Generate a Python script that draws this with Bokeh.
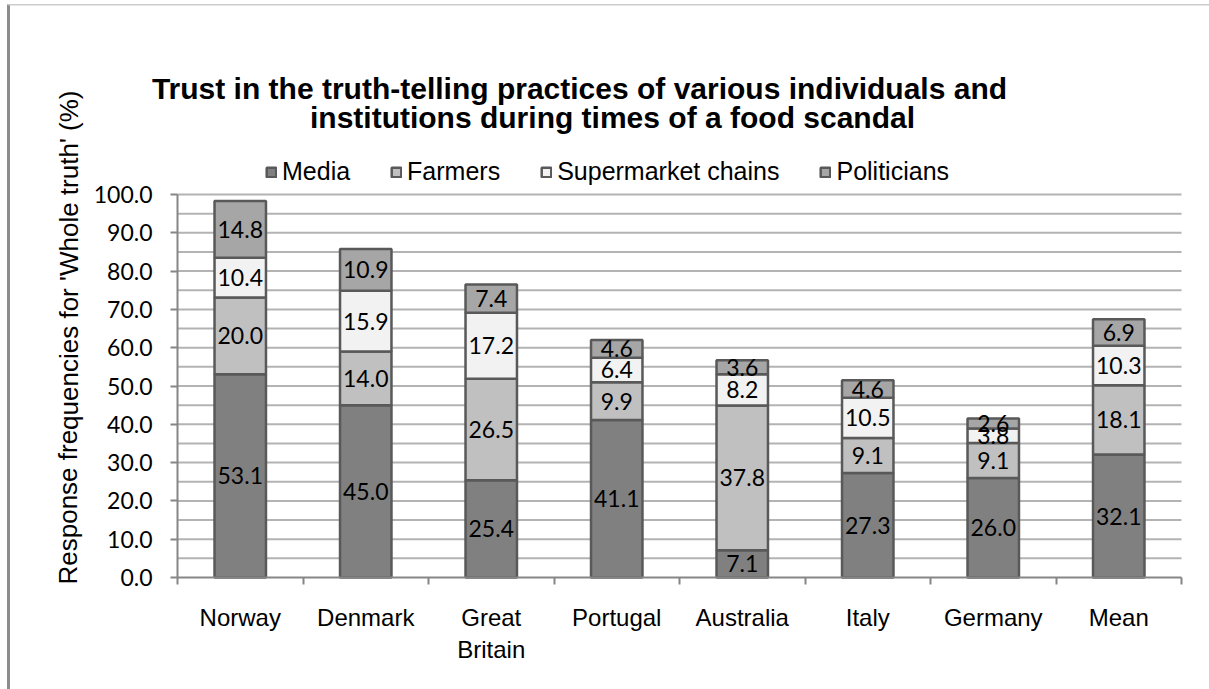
from bokeh.plotting import figure
from bokeh.models import (Range1d, FixedTicker, NumeralTickFormatter, Label, Legend,
                          LegendItem, ColumnDataSource, BoxAnnotation)
from bokeh.core.properties import value
from bokeh.embed import file_html
from bokeh.resources import INLINE

categories = ["Norway", "Denmark", "Great\nBritain", "Portugal", "Australia", "Italy", "Germany", "Mean"]
series = ["Media", "Farmers", "Supermarket chains", "Politicians"]
media = [53.1, 45.0, 25.4, 41.1, 7.1, 27.3, 26.0, 32.1]
farmers = [20.0, 14.0, 26.5, 9.9, 37.8, 9.1, 9.1, 18.1]
supermarkets = [10.4, 15.9, 17.2, 6.4, 8.2, 10.5, 3.8, 10.3]
politicians = [14.8, 10.9, 7.4, 4.6, 3.6, 4.6, 2.6, 6.9]
colors = ["#808080", "#c0c0c0", "#f2f2f2", "#a6a6a6"]
y_ticks = [0, 10, 20, 30, 40, 50, 60, 70, 80, 90, 100]
grid_values = [5, 10, 15, 20, 25, 30, 35, 40, 45, 50, 55, 60, 65, 70, 75, 80, 85, 90, 95, 100]
title_lines = ["Trust in the truth-telling practices of various individuals and",
               "institutions during times of a food scandal"]
y_title = "Response frequencies for 'Whole truth' (%)"

# layout constants (pixels) -- the plotting frame covers the whole canvas,
# the value area sits at FL..FR x FT..FB
W, H = 1209, 689
FL, FR, FT, FB = 177, 1181, 194, 577
n = len(categories)
ymax = 100.0
px_x = (FR - FL) / n
px_y = (FB - FT) / ymax


def dx(px):
    return (px - FL) / px_x


def dy(py):
    return (FB - py) / px_y


p = figure(width=W, height=H, output_backend="svg", toolbar_location=None,
           x_range=Range1d(dx(0), dx(W)), y_range=Range1d(dy(H), dy(0)),
           min_border=0)
p.title.visible = False
p.outline_line_color = None
p.background_fill_color = "white"
p.border_fill_color = "white"
p.xgrid.visible = False
p.ygrid.visible = False

# horizontal gridlines across the value area
p.segment(x0=[0] * len(grid_values), x1=[n] * len(grid_values),
          y0=grid_values, y1=grid_values, line_color="#b3b3b3", line_width=2)

xs = [i + 0.5 for i in range(n)]
data = {"x": xs, "Media": media, "Farmers": farmers,
        "Supermarket chains": supermarkets, "Politicians": politicians}
src = ColumnDataSource(data)
renderers = p.vbar_stack(series, x="x", width=0.41, source=src, color=colors,
                         line_color="#595959", line_width=2.5)

# data labels
lx, ly, lt = [], [], []
stack = [media, farmers, supermarkets, politicians]
for i in range(n):
    base = 0.0
    for s in stack:
        v = s[i]
        lx.append(xs[i])
        ly.append(base + v / 2)
        lt.append("%.1f" % v)
        base += v
p.text(x=lx, y=ly, text=lt, text_align="center", text_baseline="middle",
       text_font=value("Lato"), text_font_size="23px", text_color="black")

# x axis
xa = p.xaxis[0]
xa.fixed_location = 0
xa.bounds = (0, n)
xa.ticker = FixedTicker(ticks=xs, minor_ticks=list(range(n + 1)))
xa.major_label_overrides = {x: c for x, c in zip(xs, categories)}
xa.major_tick_line_color = None
xa.major_tick_out = 0
xa.major_tick_in = 0
xa.minor_tick_line_color = "#868686"
xa.minor_tick_line_width = 2
xa.minor_tick_out = 7
xa.minor_tick_in = 0
xa.axis_line_color = "#868686"
xa.axis_line_width = 2
xa.major_label_standoff = 19
xa.major_label_text_font = "Liberation Sans"
xa.major_label_text_font_size = "24px"
xa.major_label_text_color = "black"

# y axis
ya = p.yaxis[0]
ya.fixed_location = 0
ya.bounds = (0, ymax)
ya.ticker = FixedTicker(ticks=y_ticks, minor_ticks=[])
ya.formatter = NumeralTickFormatter(format="0.0")
ya.major_tick_out = 7
ya.major_tick_in = 0
ya.major_tick_line_color = "#868686"
ya.major_tick_line_width = 2
ya.axis_line_color = "#868686"
ya.axis_line_width = 2
ya.major_label_standoff = 18
ya.major_label_text_font = "Lato"
ya.major_label_text_font_size = "23px"
ya.major_label_text_color = "black"

# y axis title (rotated label)
p.add_layout(Label(x=dx(68), y=dy(337), text=y_title, angle=1.5707963,
                   text_align="center", text_baseline="middle",
                   text_font="Liberation Sans", text_font_size="26px",
                   text_color="black"))

# title
for t, cx, py in zip(title_lines, [579, 612], [88, 117]):
    p.add_layout(Label(x=dx(cx), y=dy(py), text=t, text_align="center",
                       text_baseline="middle", text_font="Liberation Sans",
                       text_font_style="bold", text_font_size="30px",
                       text_color="black"))

# legend
items = [LegendItem(label=s, renderers=[r]) for s, r in zip(series, renderers)]
legend = Legend(items=items, orientation="horizontal", location=(265, H - 186),
                glyph_width=12, glyph_height=12, label_standoff=5, spacing=40,
                padding=0, margin=0, border_line_color=None,
                background_fill_alpha=0,
                label_text_font="Liberation Sans", label_text_font_size="25px",
                label_text_color="black")
p.add_layout(legend, "center")

# outer chart border
p.add_layout(BoxAnnotation(left=dx(6.5), right=dx(9.5), top=dy(4), bottom=dy(H + 20),
                           fill_color="#8c8c8c", fill_alpha=1, line_color=None))
p.add_layout(BoxAnnotation(left=dx(8), right=dx(W + 20), top=dy(3.5), bottom=dy(5),
                           fill_color="#cccccc", fill_alpha=1, line_color=None))

open("out.html", "w").write(file_html(p, INLINE))
